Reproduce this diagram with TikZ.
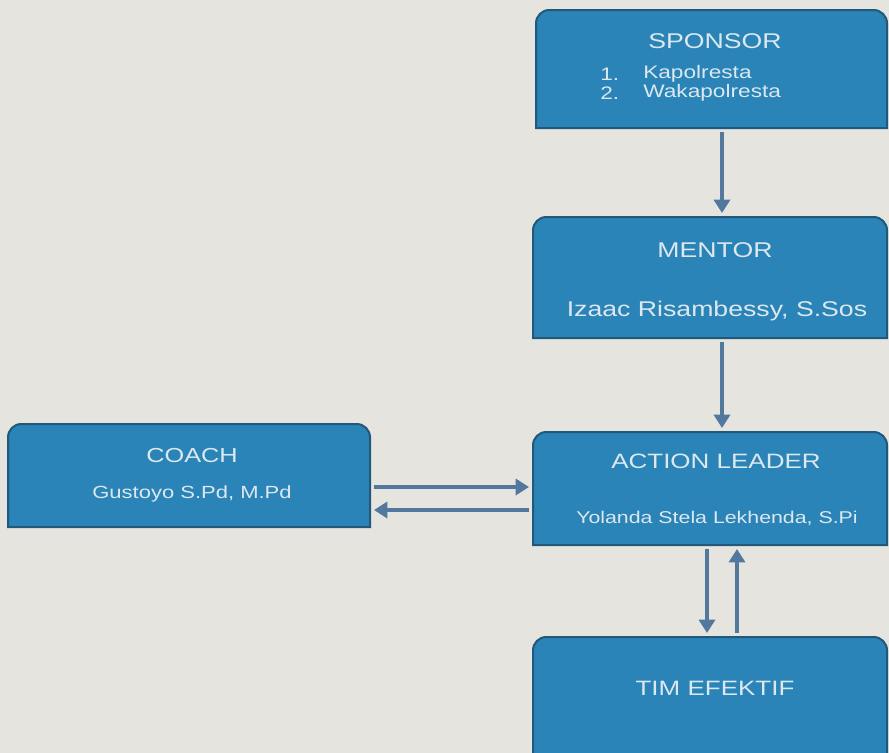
\documentclass[tikz,border=0pt]{standalone}
\usepackage{fontspec}
\setmainfont{Liberation Sans}
\usepackage{graphicx}
\usetikzlibrary{arrows.meta,calc}
\definecolor{bgc}{HTML}{E6E4DF}
\definecolor{boxfill}{HTML}{2A84B7}
\definecolor{boxline}{HTML}{22587A}
\definecolor{txtc}{HTML}{DCE8EF}
\definecolor{arrc}{HTML}{52789E}
\newcommand{\sq}[1]{\scalebox{1}[0.8]{#1}}
\newcommand{\fs}[1]{\fontsize{#1}{#1}\selectfont}
\tikzset{
  boxnode/.style={rectangle, inner sep=0pt, outer sep=0pt},
  boxshape/.style={fill=boxfill, draw=boxline, line width=1.5pt},
  txt/.style={text=txtc, inner sep=0pt},
  arr/.style={draw=arrc, line width=3.4pt, -{Triangle[width=12pt,length=10pt]}, shorten <=3pt, shorten >=3pt},
}
\newcommand{\tbox}[1]{%
  \draw[boxshape] (#1.south west) -- ([yshift=-10pt]#1.north west)
    arc[start angle=180,end angle=90,radius=10pt] -- ([xshift=-10pt]#1.north east)
    arc[start angle=90,end angle=0,radius=10pt] -- (#1.south east) -- cycle;}
\begin{document}
\begin{tikzpicture}[x=0.75pt,y=-0.75pt]
\useasboundingbox (0,0) rectangle (889,753);
\clip (0,0) rectangle (889,753);
\fill[bgc] (0,0) rectangle (889,753);
% boxes
\node[boxnode, minimum width=263.25pt, minimum height=88.5pt] (sponsor) at (711.5,69) {};
\node[boxnode, minimum width=265.5pt, minimum height=90.75pt] (mentor) at (710,277.5) {};
\node[boxnode, minimum width=271.5pt, minimum height=77.25pt] (coach) at (189,475.5) {};
\node[boxnode, minimum width=265.5pt, minimum height=84.75pt] (action) at (710,488.5) {};
\node[boxnode, minimum width=265.5pt, minimum height=93pt] (tim) at (710,699) {};
\tbox{sponsor}
\tbox{mentor}
\tbox{coach}
\tbox{action}
\tbox{tim}
% texts
\node[txt] (sponsorT) at (715,41) {\sq{\fs{20pt}SPONSOR}};
\node[txt, anchor=west] (n1) at (600,74) {\sq{\fs{17pt}1.}};
\node[txt, anchor=west] (n2) at (600,93) {\sq{\fs{17pt}2.}};
\node[txt, anchor=west] (k1) at (643,74) {\sq{\fs{17pt}Kapolresta}};
\node[txt, anchor=west] (k2) at (643,93) {\sq{\fs{17pt}Wakapolresta}};
\node[txt] (mentorT) at (715,250) {\sq{\fs{20pt}MENTOR}};
\node[txt] (mentorN) at (717,311) {\sq{\fs{20pt}Izaac Risambessy, S.Sos}};
\node[txt] (coachT) at (192,456) {\sq{\fs{19pt}COACH}};
\node[txt] (coachN) at (192,494) {\sq{\fs{16.5pt}Gustoyo S.Pd, M.Pd}};
\node[txt] (actionT) at (716,461) {\sq{\fs{19.5pt}ACTION LEADER}};
\node[txt] (actionN) at (717,518) {\sq{\fs{16pt}Yolanda Stela Lekhenda, S.Pi}};
\node[txt] (timT) at (715,688) {\sq{\fs{19.5pt}TIM EFEKTIF}};
% connector guide coordinates
\coordinate (vx) at (722,0);
\coordinate (hy1) at (0,487);
\coordinate (hy2) at (0,510);
\coordinate (dx) at (707,0);
\coordinate (ux) at (737,0);
% connectors
\draw[arr] (sponsor.south -| vx) -- (mentor.north -| vx);
\draw[arr] (mentor.south -| vx) -- (action.north -| vx);
\draw[arr] (coach.east |- hy1) -- (action.west |- hy1);
\draw[arr] (action.west |- hy2) -- (coach.east |- hy2);
\draw[arr] (action.south -| dx) -- (tim.north -| dx);
\draw[arr] (tim.north -| ux) -- (action.south -| ux);
\end{tikzpicture}
\end{document}
